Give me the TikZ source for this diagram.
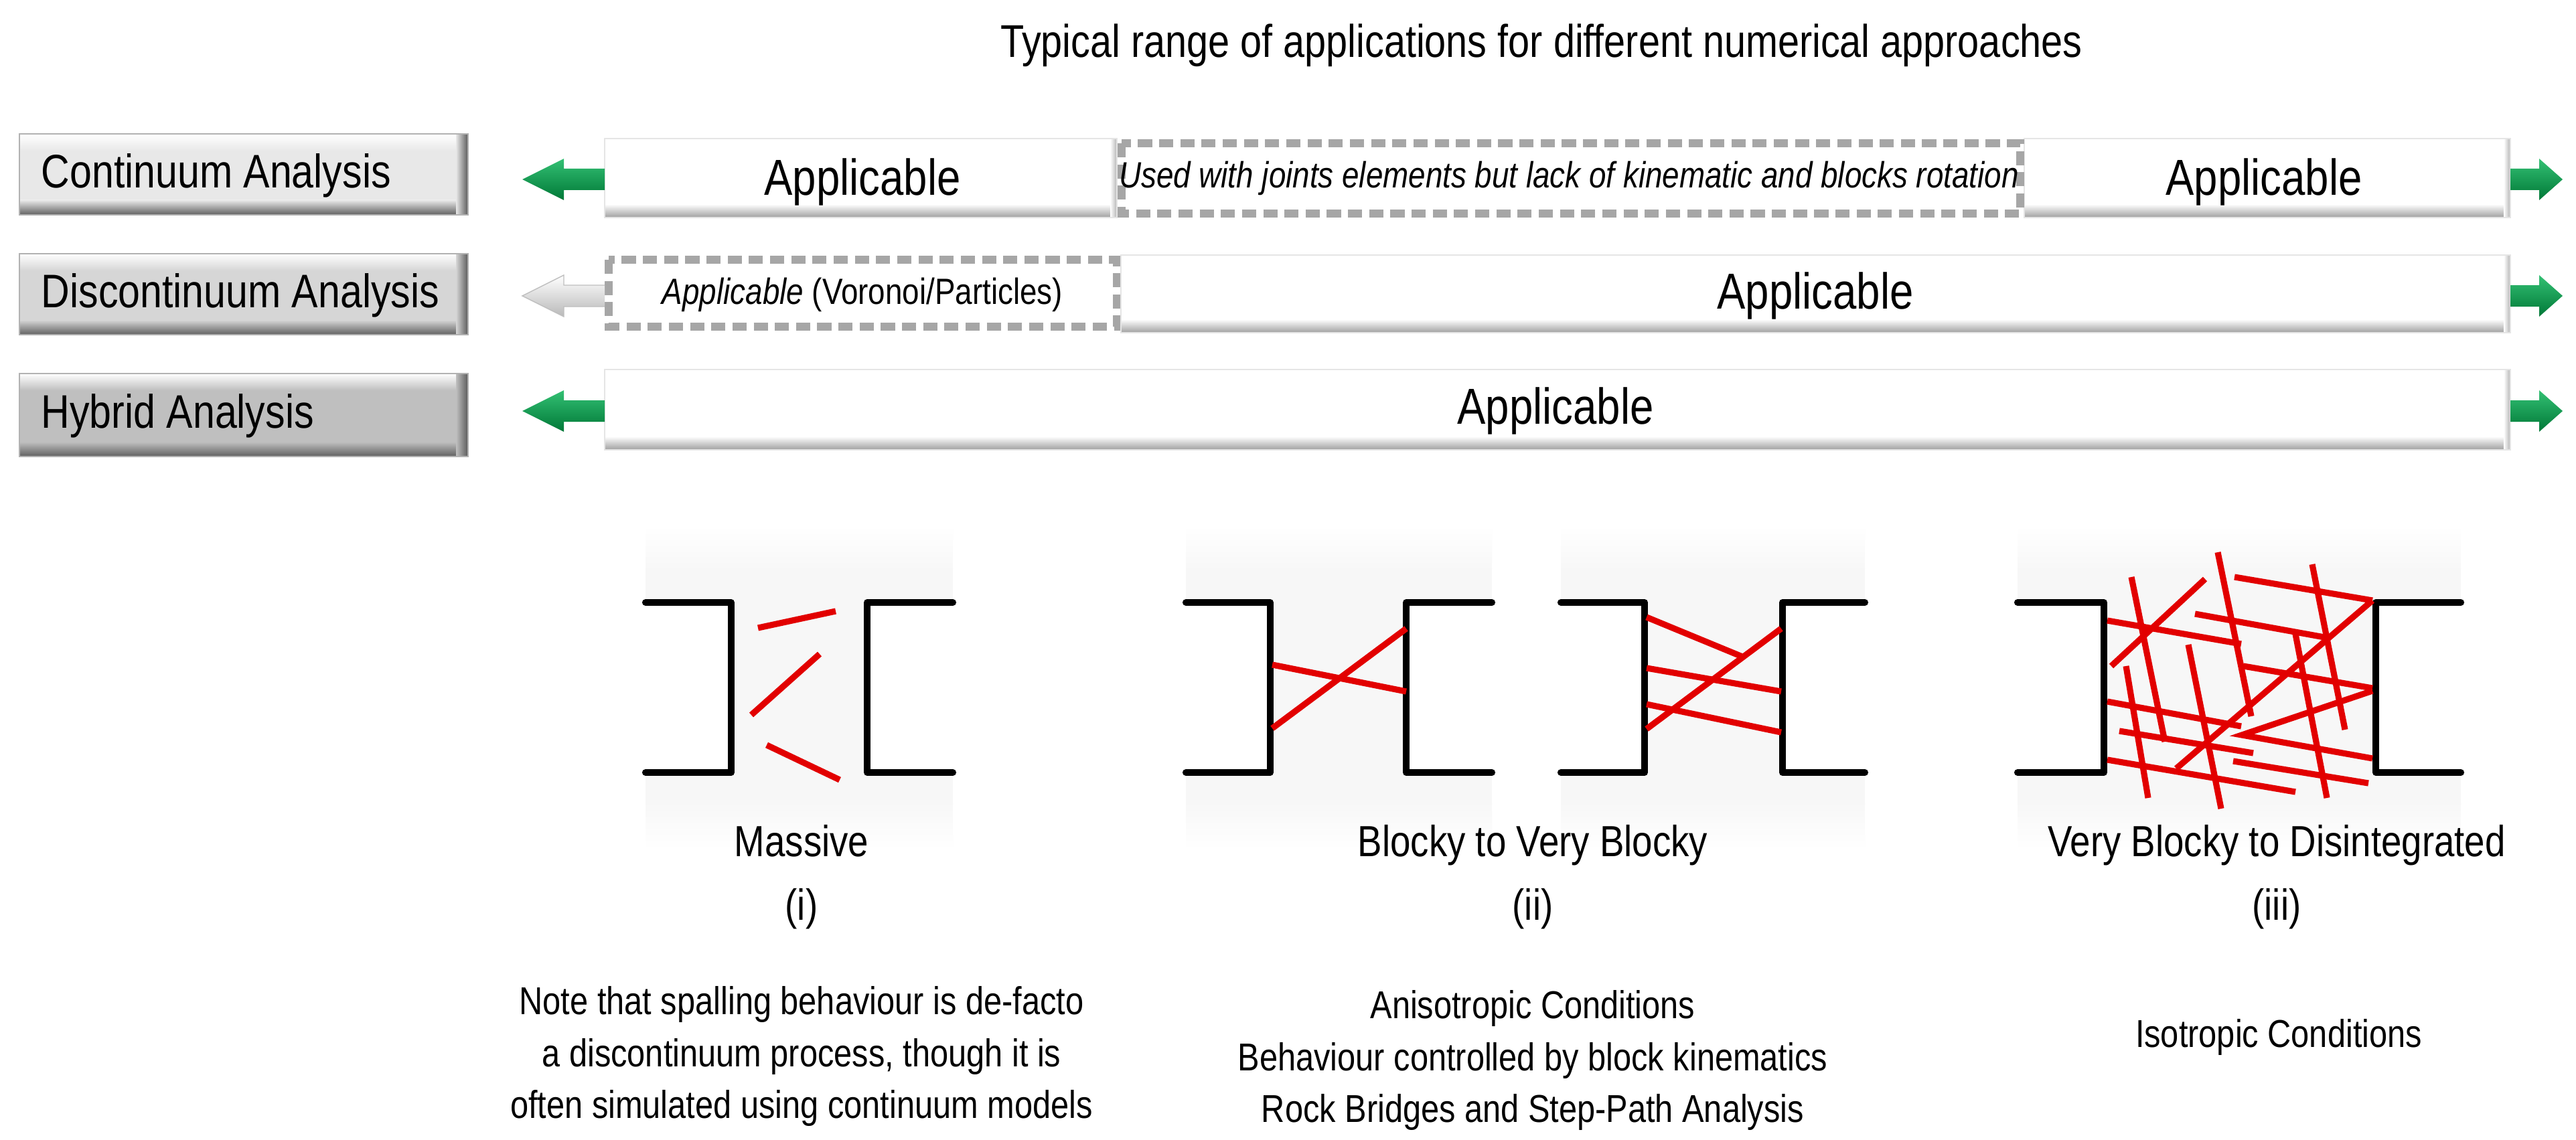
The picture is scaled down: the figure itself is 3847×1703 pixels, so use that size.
\documentclass[tikz,border=0pt]{standalone}
\usepackage{fontspec}
\setmainfont{Liberation Sans}[FakeStretch=0.84]
\usetikzlibrary{fadings}
\definecolor{grn}{RGB}{0,176,80}
\definecolor{grnd}{RGB}{0,120,55}
\definecolor{dgray}{RGB}{166,166,166}
\definecolor{rockred}{RGB}{226,0,0}
\tikzset{
  txt/.style={inner sep=0pt, text=black, font=\fontsize{21.5}{24}\selectfont},
  lbl/.style={inner sep=0pt, anchor=west, font=\fontsize{20}{23}\selectfont},
  capt/.style={inner sep=0pt, align=center, font=\fontsize{18.5}{27}\selectfont},
  note/.style={inner sep=0pt, align=center, font=\fontsize{16.5}{22}\selectfont},
  dashbox/.style={draw=dgray, line width=3.2pt, dash pattern=on 6pt off 3pt, fill=white},
  brk/.style={draw=black, line width=2.9pt, fill=white, line cap=round, line join=round},
  frac/.style={draw=rockred, line width=2.6pt},
}
\newcommand\mybar[4]{%
  \fill[white] (#1,#2) rectangle (#3,#4);
  \shade[top color=white, bottom color=gray!75] (#1,#4-20) rectangle (#3,#4);
  \shade[left color=white, right color=gray!60] (#3-10,#2) rectangle (#3,#4);
  \draw[gray!20, line width=0.8pt] (#1,#2) rectangle (#3,#4);}
\newcommand\mylab[5]{%
  \fill[#5] (#1,#2) rectangle (#3,#4);
  \shade[top color=white, bottom color=#5] (#1,#2) rectangle (#3,#2+25);
  \shade[top color=#5, bottom color=gray!75!black] (#1,#4-22) rectangle (#3,#4);
  \shade[left color=#5, right color=gray!70!black] (#3-18,#2) rectangle (#3,#4);
  \draw[gray!60, line width=0.6pt] (#1,#2) rectangle (#3,#4);}
\newcommand\larrow[2]{%
  \shade[#2] (903,#1-16) -- (842,#1-16) -- (842,#1-31) -- (780,#1) -- (842,#1+31) -- (842,#1+16) -- (903,#1+16) -- cycle;}
\newcommand\rarrow[1]{%
  \shade[top color=grn!80!white, bottom color=grnd] (3749,#1-16) -- (3792,#1-16) -- (3792,#1-31) -- (3827,#1) -- (3792,#1+31) -- (3792,#1+16) -- (3749,#1+16) -- cycle;}
\newcommand\rockbg[2]{%
  \fill[gray!6] (#1,850) rectangle (#2,1200);
  \shade[top color=white, bottom color=gray!6] (#1,785) rectangle (#2,850);
  \shade[top color=gray!6, bottom color=white] (#1,1200) rectangle (#2,1270);}
\begin{document}
\begin{tikzpicture}[x=0.01cm, y=-0.01cm]
\useasboundingbox (0,0) rectangle (3847,1703);
\fill[white] (0,0) rectangle (3847,1703);

\node[txt, font=\fontsize{19.5}{23}\selectfont] (title) at (2302,68) {Typical range of applications for different numerical approaches};

% left labels
\mylab{29}{200}{699}{321}{gray!18}
\node[lbl] (lc) at (61,262) {Continuum Analysis};
\mylab{29}{379}{699}{500}{gray!32}
\node[lbl] (ld) at (61,441) {Discontinuum Analysis};
\mylab{29}{558}{699}{682}{gray!50}
\node[lbl] (lh) at (61,621) {Hybrid Analysis};

% row 1
\mybar{903}{207}{1668}{325}
\mybar{3023}{207}{3749}{325}
\draw[dashbox] (1675,214) rectangle (3017,319);
\node[txt] (c1) at (1288,272) {Applicable};
\node[txt, font=\fontsize{15.5}{18}\itshape] (c2) at (2343,266) {Used with joints elements but lack of kinematic and blocks rotation};
\node[txt] (c3) at (3381,272) {Applicable};
\larrow{268}{top color=grn!80!white, bottom color=grnd}
\rarrow{268}

% row 2
\draw[dashbox] (909,388) rectangle (1668,488);
\mybar{1674}{381}{3749}{497}
\node[txt, font=\fontsize{15.5}{18}\selectfont] (d1) at (1288,440) {\textit{Applicable} (Voronoi/Particles)};
\node[txt] (d2) at (2711,442) {Applicable};
\larrow{442}{top color=white, bottom color=gray!55}
\draw[gray!50, line width=0.4pt] (903,426) -- (842,426) -- (842,411) -- (780,442) -- (842,473) -- (842,458) -- (903,458);
\rarrow{442}

% row 3
\mybar{903}{552}{3749}{672}
\node[txt] (h1) at (2323,614) {Applicable};
\larrow{614}{top color=grn!80!white, bottom color=grnd}
\rarrow{614}

% rock diagrams backgrounds
\rockbg{964}{1423}
\rockbg{1771}{2228}
\rockbg{2331}{2785}
\rockbg{3013}{3675}

% (i)
\draw[brk] (964,900) -- (1092,900) -- (1092,1154) -- (964,1154);
\draw[brk] (1423,900) -- (1295,900) -- (1295,1154) -- (1423,1154);
\draw[frac] (1132,938) -- (1248,913);
\draw[frac] (1122,1068) -- (1224,977);
\draw[frac] (1145,1113) -- (1254,1165);

% (ii) A
\draw[brk] (1771,900) -- (1897,900) -- (1897,1154) -- (1771,1154);
\draw[brk] (2228,900) -- (2100,900) -- (2100,1154) -- (2228,1154);
\draw[frac] (1900,993) -- (2100,1033);
\draw[frac] (1900,1088) -- (2100,939);
% (ii) B
\draw[brk] (2331,900) -- (2456,900) -- (2456,1154) -- (2331,1154);
\draw[brk] (2785,900) -- (2662,900) -- (2662,1154) -- (2785,1154);
\draw[frac] (2459,998) -- (2660,1033);
\draw[frac] (2459,1052) -- (2660,1094);
\draw[frac] (2459,1089) -- (2660,939);
\draw[frac] (2459,922) -- (2602,981);

% (iii)
\draw[brk] (3013,900) -- (3142,900) -- (3142,1154) -- (3013,1154);
\draw[brk] (3675,900) -- (3548,900) -- (3548,1154) -- (3675,1154);
\begin{scope}[frac]
\draw (3183,862) -- (3233,1108);
\draw (3293,865) -- (3153,995);
\draw (3147,927) -- (3347,962);
\draw (3312,825) -- (3362,1070);
\draw (3337,862) -- (3543,897);
\draw (3543,897) -- (3250,1148);
\draw (3278,917) -- (3477,953);
\draw (3453,843) -- (3502,1090);
\draw (3350,995) -- (3543,1028);
\draw (3543,1032) -- (3348,1098) -- (3543,1133);
\draw (3428,947) -- (3475,1192);
\draw (3268,963) -- (3317,1208);
\draw (3175,995) -- (3208,1192);
\draw (3147,1048) -- (3347,1085);
\draw (3165,1092) -- (3365,1125);
\draw (3147,1135) -- (3428,1183);
\draw (3335,1137) -- (3537,1170);
\end{scope}

% captions
\node[capt] (m1) at (1197,1310) {Massive\\(i)};
\node[capt] (m2) at (2289,1310) {Blocky to Very Blocky\\(ii)};
\node[capt] (m3) at (3400,1310) {Very Blocky to Disintegrated\\(iii)};
\node[note] (n1) at (1197,1578) {Note that spalling behaviour is de-facto\\a discontinuum process, though it is\\often simulated using continuum models};
\node[note] (n2) at (2289,1584) {Anisotropic Conditions\\Behaviour controlled by block kinematics\\Rock Bridges and Step-Path Analysis};
\node[note] (n3) at (3403,1549) {Isotropic Conditions};
\end{tikzpicture}
\end{document}
